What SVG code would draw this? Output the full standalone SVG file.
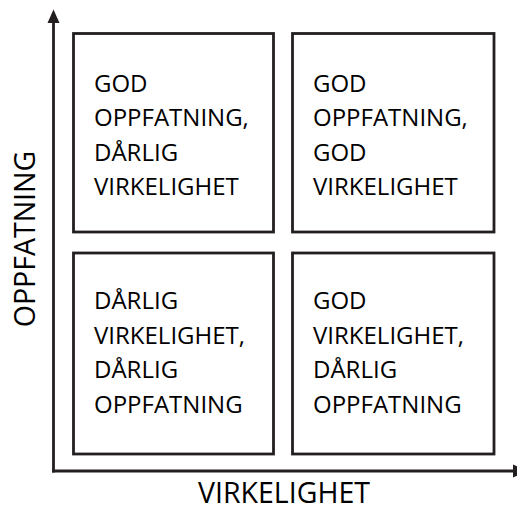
<svg xmlns="http://www.w3.org/2000/svg" width="517" height="510" viewBox="0 0 517 510">
  <style>
    .box { fill: #ffffff; stroke: #231f20; stroke-width: 2.8; }
    .axis { fill: none; stroke: #231f20; stroke-width: 2.8; }
    .head { fill: #231f20; }
    .lbl { font-family: "Open Sans", "Liberation Sans", sans-serif; font-size: 24px; fill: #000000; }
    .ax { font-family: "Open Sans", "Liberation Sans", sans-serif; font-size: 28.5px; fill: #000000; }
  </style>
  <rect width="517" height="510" fill="#ffffff"/>

  <!-- axes -->
  <g id="connectors">
    <line class="axis" x1="53.5" y1="22" x2="53.5" y2="472.4"/>
    <polygon class="head" points="53.5,9.5 47.5,23 59.5,23"/>
    <line class="axis" x1="52.1" y1="471" x2="514" y2="471"/>
    <polygon class="head" points="527,471 513,464.5 513,477.5"/>
  </g>

  <g id="axis-y">
    <text class="ax" transform="translate(35,239) rotate(-90)" text-anchor="middle">OPPFATNING</text>
  </g>
  <g id="axis-x">
    <text class="ax" x="284" y="503" text-anchor="middle">VIRKELIGHET</text>
  </g>

  <g id="q-top-left">
    <rect class="box" x="73.5" y="33.5" width="200" height="198.5"/>
    <text class="lbl" x="94">
      <tspan x="94" y="91.5">GOD</tspan>
      <tspan x="94" y="126">OPPFATNING,</tspan>
      <tspan x="94" y="160.5">DÅRLIG</tspan>
      <tspan x="94" y="195">VIRKELIGHET</tspan>
    </text>
  </g>

  <g id="q-top-right">
    <rect class="box" x="292.5" y="33.5" width="201.5" height="198.5"/>
    <text class="lbl" x="313">
      <tspan x="313" y="91.5">GOD</tspan>
      <tspan x="313" y="126">OPPFATNING,</tspan>
      <tspan x="313" y="160.5">GOD</tspan>
      <tspan x="313" y="195">VIRKELIGHET</tspan>
    </text>
  </g>

  <g id="q-bottom-left">
    <rect class="box" x="73.5" y="253" width="200" height="201"/>
    <text class="lbl" x="94">
      <tspan x="94" y="309">DÅRLIG</tspan>
      <tspan x="94" y="343.5">VIRKELIGHET,</tspan>
      <tspan x="94" y="378">DÅRLIG</tspan>
      <tspan x="94" y="412.5">OPPFATNING</tspan>
    </text>
  </g>

  <g id="q-bottom-right">
    <rect class="box" x="292.5" y="253" width="201.5" height="201"/>
    <text class="lbl" x="313">
      <tspan x="313" y="309">GOD</tspan>
      <tspan x="313" y="343.5">VIRKELIGHET,</tspan>
      <tspan x="313" y="378">DÅRLIG</tspan>
      <tspan x="313" y="412.5">OPPFATNING</tspan>
    </text>
  </g>
</svg>
